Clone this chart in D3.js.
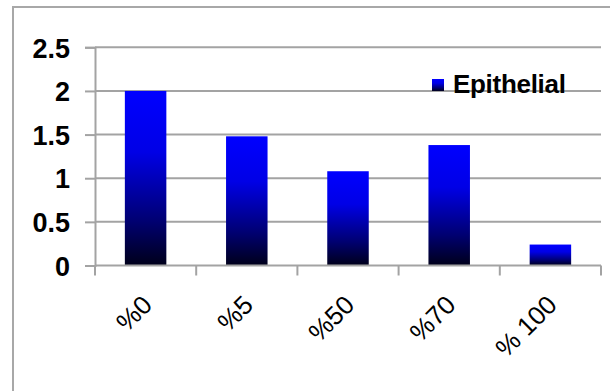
<!DOCTYPE html>
<html>
<head>
<meta charset="utf-8">
<script src="https://cdn.jsdelivr.net/npm/d3@7"></script>
<style>
  html, body { margin: 0; padding: 0; background: #fff; }
  svg { display: block; }
</style>
</head>
<body>
<svg id="chart" width="610" height="391"></svg>
<script>
// Chart data
const categories = ["%0", "%5", "%50", "%70", "% 100"];
const epithelial = [2.0, 1.48, 1.08, 1.38, 0.24];
const yTicks = [0, 0.5, 1, 1.5, 2, 2.5];
const yTickLabels = ["0", "0.5", "1", "1.5", "2", "2.5"];
const seriesName = "Epithelial";

const W = 610, H = 391;
const margin = { top: 47.3, right: 9, bottom: 125.5, left: 95 };
const innerW = W - margin.left - margin.right;
const innerH = H - margin.top - margin.bottom;

const svg = d3.select("#chart");
const gridColor = "#a3a3a3";
const font = "'Liberation Sans', Arial, sans-serif";

// Bar gradient: bright blue at the top fading to near black at the base
const defs = svg.append("defs");
const grad = defs.append("linearGradient")
  .attr("id", "barFill")
  .attr("x1", 0).attr("y1", 0).attr("x2", 0).attr("y2", 1);
grad.append("stop").attr("offset", "0%").attr("stop-color", "#0000ff");
grad.append("stop").attr("offset", "35%").attr("stop-color", "#0000e6");
grad.append("stop").attr("offset", "75%").attr("stop-color", "#000070");
grad.append("stop").attr("offset", "100%").attr("stop-color", "#00001a");

// Outer chart frame (left and top edges visible)
svg.append("path")
  .attr("d", `M13,${H} L13,7 L${W},7`)
  .attr("fill", "none")
  .attr("stroke", "#a8a8a8")
  .attr("stroke-width", 2);

const g = svg.append("g").attr("transform", `translate(${margin.left},${margin.top})`);

const x = d3.scaleBand()
  .domain(categories)
  .range([0, innerW])
  .paddingInner(0.59)
  .paddingOuter(0.295);

const y = d3.scaleLinear()
  .domain([0, 2.5])
  .range([innerH, 0]);

// Horizontal gridlines
g.append("g")
  .selectAll("line")
  .data(yTicks.filter(d => d > 0))
  .join("line")
  .attr("x1", 0)
  .attr("x2", innerW)
  .attr("y1", d => y(d))
  .attr("y2", d => y(d))
  .attr("stroke", gridColor)
  .attr("stroke-width", 2);

// Y axis
const yAxis = g.append("g")
  .call(d3.axisLeft(y)
    .tickValues(yTicks)
    .tickFormat((d, i) => yTickLabels[i])
    .tickSize(10)
    .tickPadding(15));
yAxis.select(".domain").attr("stroke", gridColor).attr("stroke-width", 2);
yAxis.selectAll(".tick line").attr("stroke", gridColor).attr("stroke-width", 2);
yAxis.selectAll(".tick text")
  .attr("font-family", font)
  .attr("font-weight", "bold")
  .attr("font-size", 27)
  .attr("fill", "#000")
  .attr("dy", "0.36em");

// Bars
g.append("g")
  .selectAll("rect")
  .data(categories.map((c, i) => ({ c, v: epithelial[i] })))
  .join("rect")
  .attr("x", d => x(d.c))
  .attr("width", x.bandwidth())
  .attr("y", d => y(d.v))
  .attr("height", d => innerH - y(d.v))
  .attr("fill", "url(#barFill)");

// X axis with tick marks at category boundaries
const xAxisG = g.append("g").attr("transform", `translate(0,${innerH})`);
xAxisG.append("line")
  .attr("x1", 0).attr("x2", innerW)
  .attr("stroke", gridColor).attr("stroke-width", 2);
xAxisG.selectAll("line.tk")
  .data(d3.range(categories.length + 1))
  .join("line")
  .attr("class", "tk")
  .attr("x1", i => i * innerW / categories.length)
  .attr("x2", i => i * innerW / categories.length)
  .attr("y1", 0).attr("y2", 10)
  .attr("stroke", gridColor).attr("stroke-width", 2);

// Rotated category labels
xAxisG.selectAll("text")
  .data(categories)
  .join("text")
  .attr("transform", d => `translate(${x(d) + x.bandwidth() / 2 + 8},${41}) rotate(-45)`)
  .attr("text-anchor", "end")
  .attr("font-family", font)
  .attr("font-size", 26)
  .attr("fill", "#000")
  .text(d => d);

// Legend
const legend = svg.append("g").attr("transform", "translate(432,79)");
legend.append("rect")
  .attr("width", 12).attr("height", 12)
  .attr("fill", "url(#barFill)");
legend.append("text")
  .attr("x", 21).attr("y", 14)
  .attr("font-family", font)
  .attr("font-weight", "bold")
  .attr("font-size", 26)
  .attr("letter-spacing", -0.3)
  .attr("fill", "#000")
  .text(seriesName);
</script>
</body>
</html>
